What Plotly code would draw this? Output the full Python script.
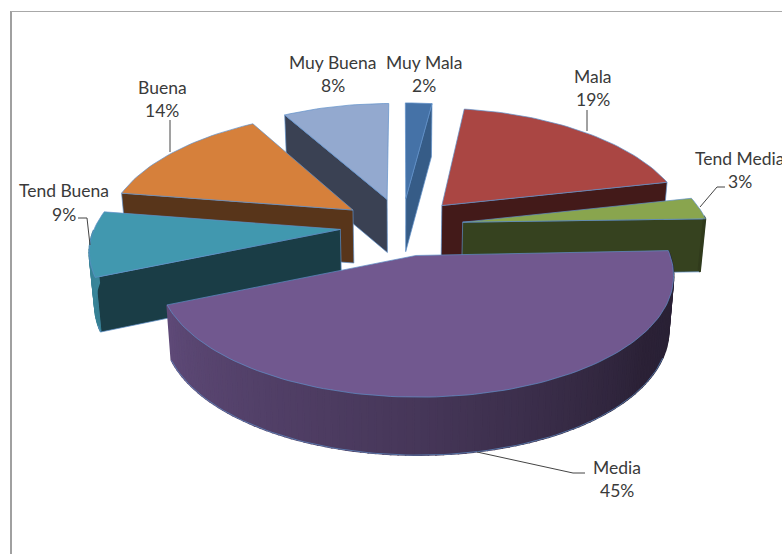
import numpy as np
import plotly.graph_objects as go

# ---- data ----
categories = ["Muy Mala", "Mala", "Tend Media", "Media", "Tend Buena", "Buena", "Muy Buena"]
values = [2, 19, 3, 45, 9, 14, 8]

# ---- style ----
top_colors = ["#4572A7", "#AA4643", "#89A54E", "#71588F", "#4198AF", "#D6803B", "#93A9CF"]
wall_colors = ["#365C87", "#431A19", "#36421F", None, "#1A3D46", "#58351A", "#3A4153"]
edge = "#5F8FC8"
ink = "#3a3a3a"
EXPLODE = 0.25
CX, CY, A, B, K, SAG = 402.0, 226.5, 247.0, 115.0, 0.13, 2.5
SHRINK = 0.982


def project(x, y):
    s = 1.0 / (1.0 + K * y)
    return CX + A * x * s, CY - B * y * s + SAG * x * x


def drop(sx, sy, y):
    h = 53.0 + 4.0 * np.maximum(0.0, -y)
    return CX + (sx - CX) * SHRINK, sy + h


def rgb(hexcol, f):
    c = [int(hexcol[i:i + 2], 16) for i in (1, 3, 5)]
    return "rgb({},{},{})".format(*[int(round(v * f)) for v in c])


fig = go.Figure()


def poly(xs, ys, fill, line=None, width=1.0):
    fig.add_trace(go.Scatter(
        x=list(xs), y=list(ys), mode="lines", fill="toself", fillcolor=fill,
        line=dict(color=line or fill, width=width),
        hoverinfo="skip", showlegend=False))


shares = np.array(values, dtype=float) / sum(values) * 360.0
ends = np.cumsum(shares)
starts = ends - shares

slices = []
for i, cat in enumerate(categories):
    mid = np.radians((starts[i] + ends[i]) / 2)
    ox, oy = EXPLODE * np.sin(mid), EXPLODE * np.cos(mid)
    ang = np.radians(np.linspace(starts[i], ends[i], max(3, int(shares[i] / 1.5) + 1)))
    rx, ry = ox + np.sin(ang), oy + np.cos(ang)
    slices.append(dict(i=i, ox=ox, oy=oy, ang=ang, rx=rx, ry=ry, depth=oy))

# painter's order: far slices first
for sl in sorted(slices, key=lambda d: -d["depth"]):
    i = sl["i"]
    top = top_colors[i]
    wall = wall_colors[i] or rgb(top, 0.6)
    ax, ay = project(sl["ox"], sl["oy"])
    bax, bay = drop(ax, ay, sl["oy"])
    px, py = project(sl["rx"], sl["ry"])
    qx, qy = drop(px, py, sl["ry"])
    # radial walls that face the viewer
    sa, ea = np.sin(sl["ang"][0]), np.sin(sl["ang"][-1])
    for j, visible in ((0, sa < -1e-9), (-1, ea > 1e-9)):
        if visible:
            poly([ax, px[j], qx[j], bax, ax], [ay, py[j], qy[j], bay, ay], wall, edge, 0.7)
    # outer wall, shaded with the viewing angle
    deg = np.degrees(sl["ang"])
    LOW, HIGH = 85, 272
    for j in range(len(deg) - 1):
        d = (deg[j] + deg[j + 1]) / 2
        if d < LOW or d > HIGH:
            continue
        f = np.interp(d, [85, 125, 180, 250, 280], [0.36, 0.38, 0.62, 0.84, 0.9])
        poly([px[j], px[j + 1], qx[j + 1], qx[j], px[j]],
             [py[j], py[j + 1], qy[j + 1], qy[j], py[j]], rgb(top, f), None, 1.6)
    mask = (deg >= 110) & (deg <= 252)
    if mask.sum() > 1:
        fig.add_trace(go.Scatter(x=qx[mask], y=qy[mask], mode="lines",
                                 line=dict(color=edge, width=0.7), hoverinfo="skip", showlegend=False))
    # top face
    poly(np.r_[ax, px, ax], np.r_[ay, py, ay], top, edge, 0.7)

# leader lines
leaders = [
    ([587, 587], [110, 131]),
    ([700, 717, 725], [207, 187, 187]),
    ([170, 170], [120, 152]),
    ([78, 87, 90], [218, 218, 245]),
    ([477, 573, 585], [452, 473, 473]),
]
for lx, ly in leaders:
    fig.add_trace(go.Scatter(x=lx, y=ly, mode="lines", line=dict(color="#444444", width=1),
                             hoverinfo="skip", showlegend=False))

# chart frame
fig.add_shape(type="line", x0=11, x1=11, y0=11, y1=554, line=dict(color="#a0a0a0", width=2))
fig.add_shape(type="line", x0=11, x1=782, y0=11.5, y1=11.5, line=dict(color="#a8a8a8", width=1))

# labels: name x, name y, percent x, percent y
label_pos = {
    "Muy Mala": (424, 62, 424, 85),
    "Mala": (593, 76, 593, 99),
    "Tend Media": (693, 158, 740, 181),
    "Media": (617, 467, 617, 490),
    "Tend Buena": (64, 190, 64, 214),
    "Buena": (162, 87, 162, 110),
    "Muy Buena": (333, 62, 333, 85),
}
font = dict(family="Lato", size=17.5, color=ink)
for cat, val in zip(categories, values):
    nx, ny, vx, vy = label_pos[cat]
    anchor = "left" if cat == "Tend Media" else "center"
    fig.add_annotation(x=nx, y=ny, text=cat, showarrow=False, font=font, xanchor=anchor, yanchor="middle")
    fig.add_annotation(x=vx, y=vy, text=f"{val}%", showarrow=False, font=font, xanchor="center", yanchor="middle")

fig.update_layout(
    width=782, height=554, autosize=False,
    margin=dict(l=0, r=0, t=0, b=0),
    paper_bgcolor="white", plot_bgcolor="white", showlegend=False,
    xaxis=dict(range=[0, 782], visible=False, fixedrange=True),
    yaxis=dict(range=[554, 0], visible=False, fixedrange=True),
)
fig.write_html("out.html", config={"displayModeBar": False},
               post_script="document.body.style.margin='0';document.body.style.overflow='hidden';")
